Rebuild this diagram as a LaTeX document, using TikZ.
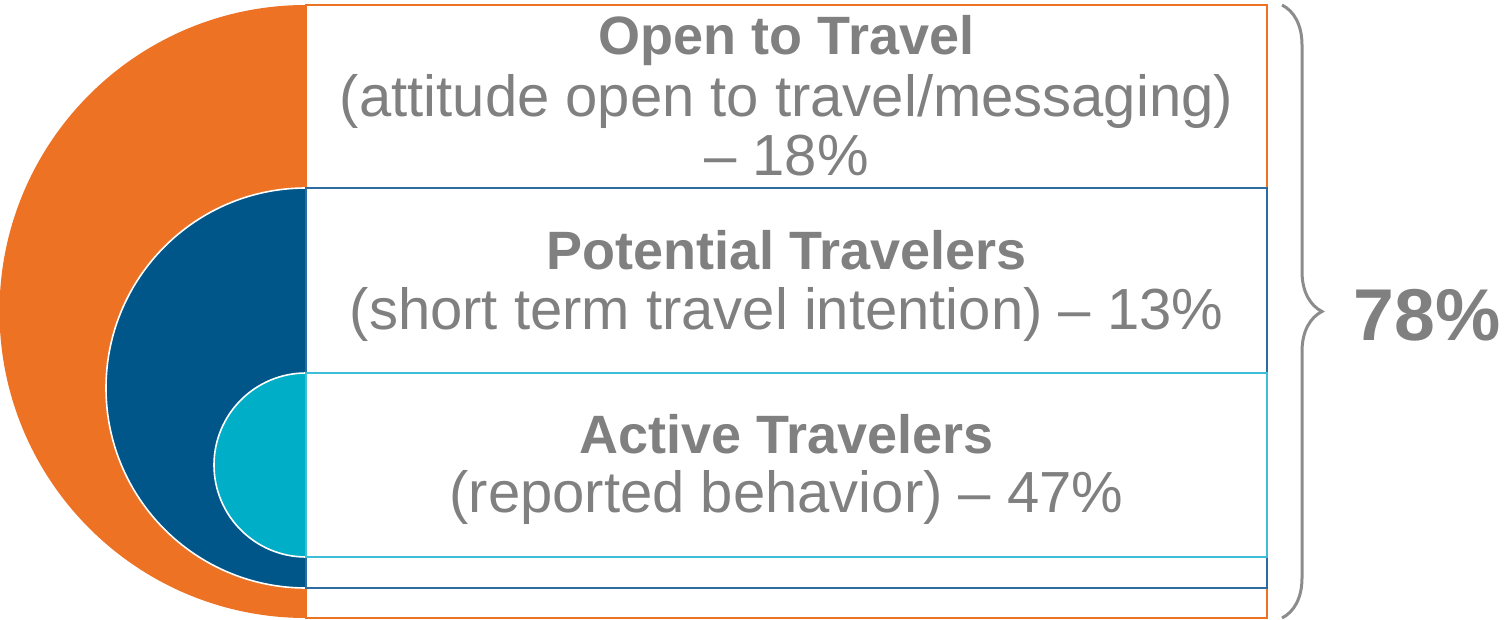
\documentclass[tikz,border=0pt]{standalone}
\usepackage{fontspec}
\setmainfont{Liberation Sans}
\usetikzlibrary{decorations.pathreplacing}

\definecolor{tvorange}{RGB}{237,114,35}
\definecolor{tvblue}{RGB}{0,86,137}
\definecolor{tvcyan}{RGB}{0,175,199}
\definecolor{tvblueline}{RGB}{45,108,162}
\definecolor{tvcyanline}{RGB}{60,190,215}
\definecolor{tvgray}{RGB}{128,128,128}
\definecolor{tvbrace}{RGB}{140,140,140}

\begin{document}
\begin{tikzpicture}[x=0.5pt, y=-0.5pt,
    head/.style={anchor=base, text=tvgray, font=\fontsize{27}{30}\selectfont\bfseries},
    sub/.style={anchor=base, text=tvgray, font=\fontsize{29}{30}\selectfont},
    band/.style={line width=1pt}]
        \useasboundingbox (0,0) rectangle (1504,620);

        % outer ring
        \fill[tvorange] (306,5) arc[start angle=270, end angle=90, radius=306.5] -- cycle;
        \draw[band, tvorange] (306,5) rectangle (1267,618);

        % middle ring
        \filldraw[tvblue, draw=white, line width=0.8pt] (306,188) arc[start angle=270, end angle=90, radius=200] -- cycle;
        \draw[band, tvblueline] (306,188) rectangle (1267,588);

        % inner ring
        \filldraw[tvcyan, draw=white, line width=0.8pt] (306,373) arc[start angle=270, end angle=90, radius=92] -- cycle;
        \draw[band, tvcyanline] (306,373) rectangle (1267,557);

        \node[head] (openHead) at (786.5,55) {Open to Travel};
        \node[sub] (openSub) at (786.5,117) {(attitude open to travel/messaging)};
        \node[sub] (openPct) at (786.5,176) {– 18\%};

        \node[head] (potHead) at (786.5,270) {Potential Travelers};
        \node[sub] (potSub) at (786.5,329) {(short term travel intention) – 13\%};

        \node[head] (actHead) at (786.5,453) {Active Travelers};
        \node[sub] (actSub) at (786.5,512) {(reported behavior) – 47\%};

        \coordinate (braceTop) at (1282,5);
        \coordinate (braceBot) at (1282,618);
        \draw[decorate, decoration={brace, amplitude=20pt}, tvbrace, line width=1.5pt] (braceTop) -- (braceBot);

        \node[anchor=base, text=tvgray, font=\fontsize{36.7}{40}\selectfont\bfseries] (total) at (1427,340) {78\%};
    \end{tikzpicture}
\end{document}
